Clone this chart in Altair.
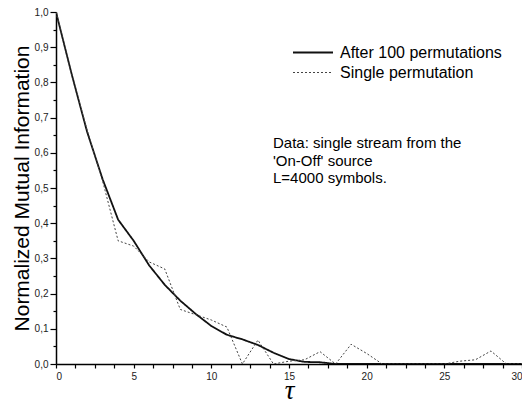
import altair as alt
import pandas as pd

tau = list(range(31))
after_100 = [1.0, 0.825, 0.66, 0.525, 0.41, 0.35, 0.28, 0.225, 0.18, 0.142, 0.108,
             0.083, 0.07, 0.054, 0.032, 0.014, 0.006, 0.005, 0.0, 0.0, 0.0,
             0.0, 0.0, 0.0, 0.0, 0.0, 0.0, 0.0, 0.0, 0.0, 0.0]
single = [1.0, 0.825, 0.665, 0.52, 0.35, 0.335, 0.29, 0.27, 0.155, 0.14, 0.125,
          0.105, 0.0, 0.068, 0.0, 0.008, 0.012, 0.035, 0.0, 0.056, 0.03,
          0.0, 0.0, 0.0, 0.0, 0.0, 0.008, 0.012, 0.037, 0.0, 0.0]
series_names = ["After 100 permutations", "Single permutation"]
x_tick_values = [i * 1.25 for i in range(25)]
y_tick_values = [i * 0.05 for i in range(21)]
note_lines = ["Data: single stream from the", "'On-Off' source", "L=4000 symbols."]

rows = []
for t, a, s in zip(tau, after_100, single):
    rows.append({"tau": t, "v": a, "series": series_names[0]})
    rows.append({"tau": t, "v": s, "series": series_names[1]})
df = pd.DataFrame(rows)

legend_kw = dict(title=None, orient="none", legendX=236, legendY=32, padding=0,
                 labelFontSize=16, labelFont="Liberation Sans", labelLimit=400,
                 symbolType="stroke", symbolSize=1600, symbolStrokeWidth=1.8,
                 clipHeight=17, rowPadding=3, labelOffset=6, labelColor="#000")

lines = alt.Chart(df).mark_line(clip=True).encode(
    x=alt.X("tau:Q", scale=alt.Scale(domain=[0, 30], nice=False, zero=False),
            axis=alt.Axis(values=x_tick_values,
                          labelExpr="abs(datum.value % 5) < 0.01 ? format(datum.value, 'd') : ''",
                          title="τ", titleFont="Liberation Serif", titleFontStyle="italic",
                          titleFontSize=27, titleFontWeight="normal",
                          titleBaseline="alphabetic", titleY=34,
                          tickSize=4, labelPadding=3)),
    y=alt.Y("v:Q", scale=alt.Scale(domain=[0, 1], nice=False),
            axis=alt.Axis(values=y_tick_values,
                          labelExpr="abs(round(datum.value*10) - datum.value*10) < 0.01 ? replace(format(datum.value, '.1f'), '.', ',') : ''",
                          title="Normalized Mutual Information", titleFontSize=21,
                          titleFont="Liberation Sans", titleFontWeight="normal",
                          titlePadding=2,
                          tickSize={"condition": {"test": "abs(round(datum.value*10) - datum.value*10) < 0.01", "value": 6}, "value": 3},
                          labelPadding=2)),
    color=alt.Color("series:N", scale=alt.Scale(domain=series_names, range=["#111111", "#444444"]),
                    legend=alt.Legend(**legend_kw)),
    strokeDash=alt.StrokeDash("series:N", scale=alt.Scale(domain=series_names, range=[[1, 0], [2, 2]]),
                              legend=alt.Legend(**legend_kw)),
    strokeWidth=alt.StrokeWidth("series:N", scale=alt.Scale(domain=series_names, range=[1.8, 1.0]),
                                legend=None),
)

note_df = pd.DataFrame({"line": note_lines, "i": list(range(len(note_lines)))})
note = alt.Chart(note_df).mark_text(align="left", baseline="middle", fontSize=15,
                                    font="Liberation Sans", color="#000").encode(
    x=alt.value(217),
    y=alt.Y("i:Q", scale=alt.Scale(domain=[0, 2], range=[131, 166]), axis=None),
    text="line:N",
)

chart = alt.layer(lines, note).resolve_scale(y="independent").properties(
    width=466, height=352,
    autosize=alt.AutoSizeParams(type="none"),
    padding={"left": 48, "top": 4, "right": 0, "bottom": 38},
).configure_view(stroke=None).configure_axis(
    domainColor="#000", domainWidth=1.5, tickColor="#000", tickWidth=1.2,
    labelFont="Liberation Sans", labelFontSize=10, labelColor="#222", grid=False,
    titleColor="#000",
)

chart.save("out.html", embed_options={"renderer": "svg", "actions": False})
